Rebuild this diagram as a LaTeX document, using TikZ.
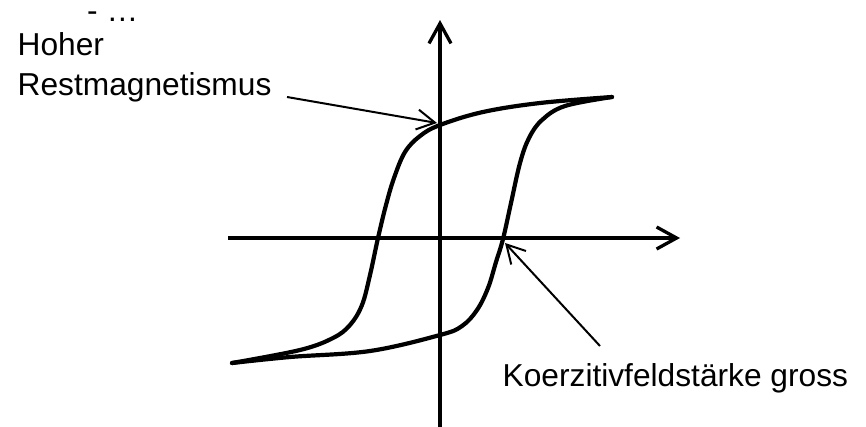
\documentclass[tikz,border=0pt]{standalone}
\usepackage{fontspec}
\setmainfont{Liberation Sans}
\usetikzlibrary{arrows.meta}
\begin{document}
\begin{tikzpicture}[x=1pt,y=-1pt,
  axis/.style={line width=3.3pt, -{Straight Barb[length=20pt,width=22pt]}},
  curve/.style={line width=4.2pt, line join=round, line cap=round},
  note/.style={line width=2pt, -{Straight Barb[length=18pt,width=20pt]}},
  lab/.style={inner sep=0pt, anchor=base west, font=\fontsize{31.7}{40}\selectfont}]
\useasboundingbox (0,0) rectangle (866,426);
% axes
\coordinate (yb) at (440,430);
\coordinate (yt) at (440,20);
\coordinate (xl) at (228,238);
\coordinate (xr) at (680,238);
\draw[axis] (yb) -- (yt);
\draw[axis] (xl) -- (xr);
% hysteresis loop
\draw[curve] plot[smooth, tension=0.6] coordinates {
  (612,97) (540,103) (483,112) (440,125) (420,136) (405,152) (394,178)
  (386,205) (378,238) (370,275) (362,305) (350,325) (333,338) (300,350) (232,363)};
\draw[curve] plot[smooth, tension=0.6] coordinates {
  (232,363) (290,357) (370,351) (440,335) (462,326) (477,310) (488,288)
  (496,262) (503,239) (511,203) (520,163) (529,138) (542,120) (565,106) (612,97)};
% labels
\node[lab] (dots) at (87,21) {- …};
\node[lab] (hoher) at (17.5,55) {Hoher};
\node[lab] (rest) at (17.5,95) {Restmagnetismus};
\node[lab] (koerz) at (502.5,386) {Koerzitivfeldstärke gross};
% annotation arrows
\coordinate (r0) at (287,97);
\coordinate (r1) at (437,123);
\coordinate (k0) at (600,346);
\coordinate (k1) at (505,243);
\draw[note] (r0) -- (r1);
\draw[note] (k0) -- (k1);
\end{tikzpicture}
\end{document}
